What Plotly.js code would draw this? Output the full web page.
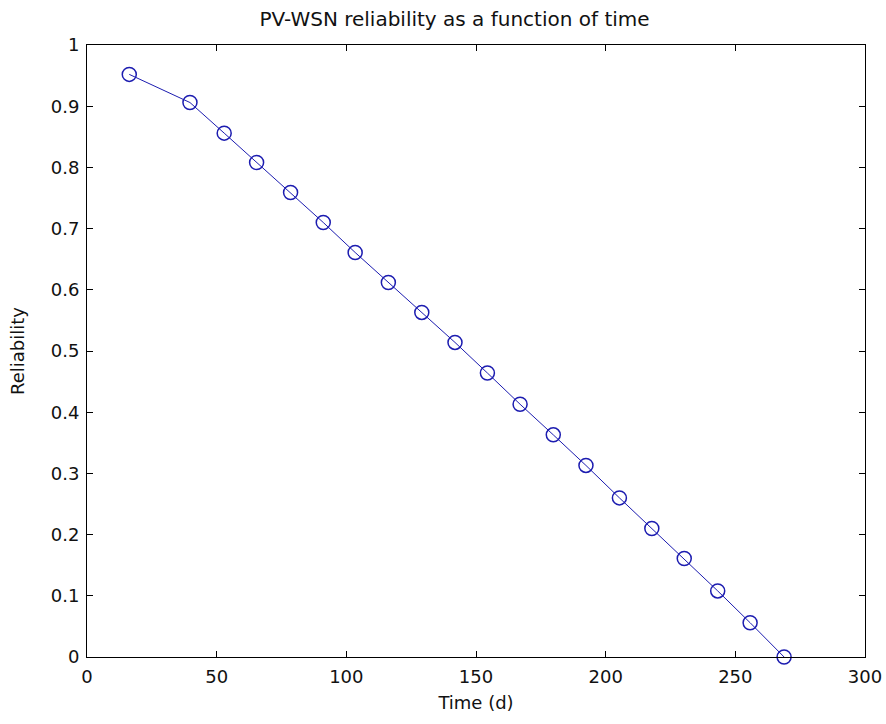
<!DOCTYPE html>
<html>
<head>
<meta charset="utf-8">
<script src="https://cdn.plot.ly/plotly-3.0.1.min.js"></script>
<style>html,body{margin:0;padding:0;background:#fff;}#chart{width:886px;height:724px;}</style>
</head>
<body>
<div id="chart"></div>
<script>
const timeDays = [16.3, 39.7, 52.9, 65.4, 78.5, 91.1, 103.4, 116.2, 129.1, 141.9, 154.4, 167.0, 179.8, 192.4, 205.3, 217.8, 230.3, 243.2, 255.7, 268.8];
const reliability = [0.952, 0.906, 0.856, 0.808, 0.759, 0.710, 0.661, 0.612, 0.563, 0.514, 0.464, 0.413, 0.363, 0.313, 0.260, 0.210, 0.161, 0.108, 0.056, 0.0];
const xTicks = [0, 50, 100, 150, 200, 250, 300];
const yTicks = [0, 0.1, 0.2, 0.3, 0.4, 0.5, 0.6, 0.7, 0.8, 0.9, 1];

const lineColor = '#1c1cb0';
const trace = {
  x: timeDays, y: reliability, type: 'scatter', mode: 'lines+markers',
  line: {color: lineColor, width: 1},
  marker: {symbol: 'circle-open', size: 14, color: lineColor, line: {width: 1.5, color: lineColor}},
  cliponaxis: false, showlegend: false
};
const fontFam = '"DejaVu Sans", "Liberation Sans", Arial, sans-serif';
const axisCommon = {
  showline: true, linecolor: '#000', linewidth: 1, mirror: 'ticks',
  ticks: 'inside', ticklen: 6, tickcolor: '#000', showgrid: false, zeroline: false,
  tickfont: {family: fontFam, size: 18, color: '#111'}
};
const layout = {
  width: 886, height: 724,
  margin: {l: 87, r: 21, t: 45, b: 67},
  paper_bgcolor: '#fff', plot_bgcolor: '#fff',
  title: {text: 'PV-WSN reliability as a function of time', font: {family: fontFam, size: 20, color: '#111'}, x: 0.513, xanchor: 'center', y: 0.974, yanchor: 'middle'},
  xaxis: Object.assign({}, axisCommon, {range: [0, 300], tickvals: xTicks, ticktext: xTicks.map(String), ticklabelstandoff: 3,
    title: {text: 'Time (d)', font: {family: fontFam, size: 18, color: '#111'}, standoff: 10}}),
  yaxis: Object.assign({}, axisCommon, {range: [0, 1], tickvals: yTicks, ticktext: yTicks.map(String), ticklabelstandoff: 3,
    title: {text: 'Reliability', font: {family: fontFam, size: 18, color: '#111'}, standoff: 21}})
};
Plotly.newPlot('chart', [trace], layout, {displayModeBar: false, staticPlot: true});
</script>
</body>
</html>
